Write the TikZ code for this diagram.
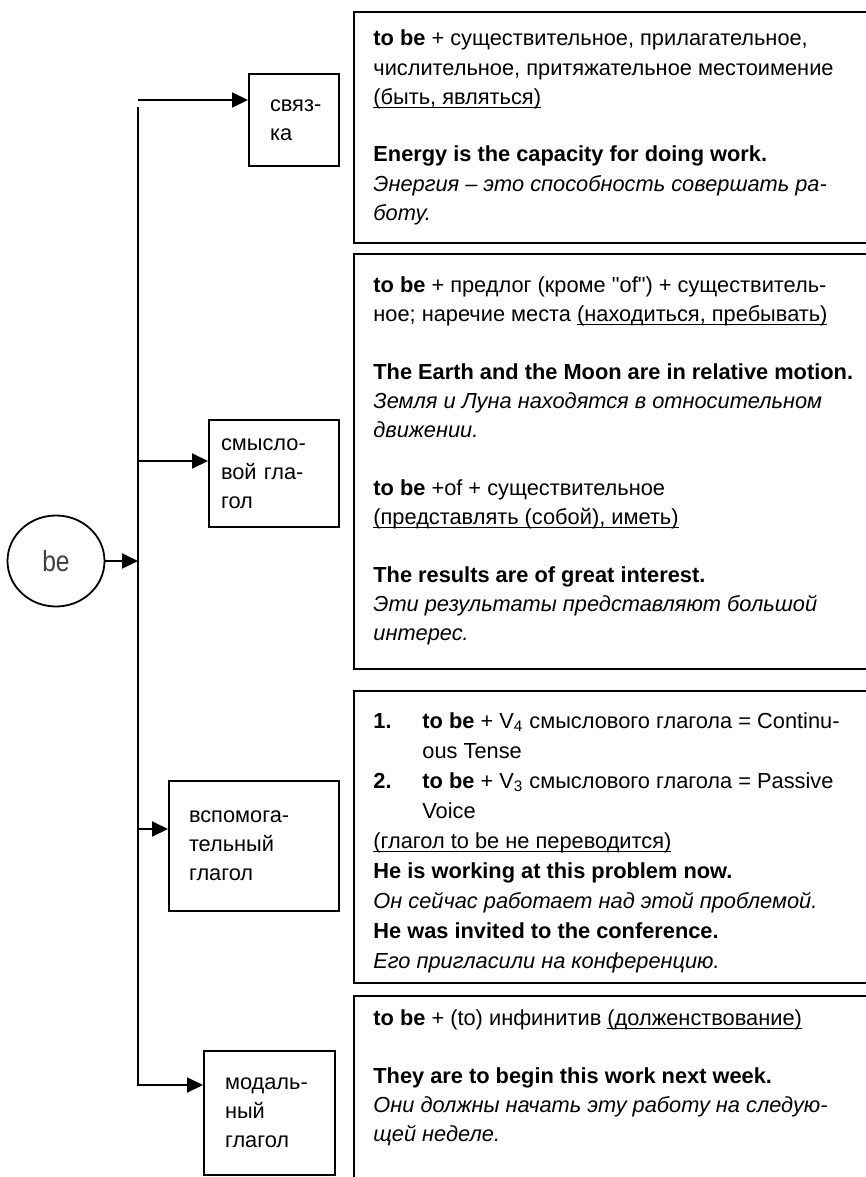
\documentclass[tikz,border=0pt]{standalone}
\usepackage{fontspec}
\setmainfont{Liberation Sans}[Ligatures=TeXOff]
\newfontfamily\narrowfont[FakeStretch=0.85]{Liberation Sans}
\usetikzlibrary{shapes.geometric,arrows.meta}
\newcommand{\undl}[1]{\setbox0\hbox{#1}\rlap{\rule[-2pt]{\wd0}{0.6pt}}\box0}

\begin{document}
\begin{tikzpicture}[x=0.5pt,y=-0.5pt]
  \tikzstyle{every node}=[font=\fontsize{10.9}{14.5}\selectfont]
  \tikzstyle{kind}=[draw,line width=1pt,anchor=north west,align=left,inner ysep=0pt]
  \tikzstyle{frame}=[draw,line width=1pt,anchor=north west,inner sep=0pt,minimum width=273.5pt]
  \tikzstyle{txt}=[anchor=base west,align=left,inner sep=0pt]
  \tikzstyle{link}=[line width=1pt,-{Triangle[length=8pt,width=7.5pt]}]
  \useasboundingbox (0,0) rectangle (866,1177);
  \newcommand{\hang}{24.5pt}
% the verb and the four kinds of use
  \node[draw,ellipse,line width=0.9pt,minimum width=48.5pt,minimum height=45.5pt,inner sep=0pt,
        font=\narrowfont\fontsize{14.5}{16}\selectfont,text=black!75] (be) at (56,561) {be};
  \node[kind,text width=24pt,inner xsep=10.5pt,minimum width=45pt,minimum height=46pt]
        (svyazka) at (248,73) {\mbox{связ-}\\ка};
  \node[kind,text width=53pt,inner xsep=6pt,minimum width=65pt,minimum height=53.5pt]
        (smysl) at (208,419) {\mbox{смысло-}\\\mbox{вой гла-}\\гол};
  \node[kind,text width=65pt,inner xsep=10pt,minimum width=85pt,minimum height=65pt]
        (vspom) at (168,780) {\mbox{вспомога-}\\тельный\\глагол};
  \node[kind,text width=44.5pt,inner xsep=10.5pt,minimum width=65.5pt,minimum height=62pt]
        (modal) at (203,1050) {\mbox{модаль-}\\ный\\глагол};
% branching line
  \coordinate (j0)   at (138,100);
  \coordinate (jtop) at (138,107);
  \coordinate (j1)   at (138,461);
  \coordinate (j2)   at (138,829);
  \coordinate (j3)   at (138,1085);
  \draw[link] (be.east) -- (be.east -| j0);
  \foreach \j/\dst in {j0/svyazka,j1/smysl,j2/vspom}{
    \draw[link] (\j) -- (\j -| \dst.west);
  }
  \draw[link] (jtop) |- (j3 -| modal.west);
% frames with rules and examples (text placed by its last baseline)
  \node[frame,minimum height=115.5pt] (b1) at (353,11)  {};
  \node[frame,minimum height=207.5pt] (b2) at (353,253) {};
  \node[frame,minimum height=146pt]   (b3) at (353,690) {};
  \node[frame,minimum height=112.5pt] (b4) at (353,995) {};
  \node[txt] (t1) at (373,220) {\textbf{to be} + существительное, прилагательное,\\
    числительное, притяжательное местоимение\\
    \undl{(быть, являться)}\\[14.5pt]
    \textbf{Energy is the capacity for doing work.}\\
    \textit{Энергия – это способность совершать ра-}\\
    \textit{боту.}};
  \node[txt] (t2) at (373,640) {\textbf{to be} + предлог (кроме "of") + существитель-\\
    ное; наречие места \undl{(находиться, пребывать)}\\[14.5pt]
    \textbf{The Earth and the Moon are in relative motion.}\\
    \textit{Земля и Луна находятся в относительном}\\
    \textit{движении.}\\[14.5pt]
    \textbf{to be} +of + существительное\\
    \undl{(представлять (собой), иметь)}\\[14.5pt]
    \textbf{The results are of great interest.}\\
    \textit{Эти результаты представляют большой}\\
    \textit{интерес.}};
  \node[txt,font=\fontsize{10.9}{15}\selectfont] (t3) at (373,968) {%
    \makebox[\hang][l]{\textbf{1.}}\textbf{to be} + V\textsubscript{4} смыслового глагола = Continu-\\
    \hspace*{\hang}ous Tense\\
    \makebox[\hang][l]{\textbf{2.}}\textbf{to be} + V\textsubscript{3} смыслового глагола = Passive\\
    \hspace*{\hang}Voice\\
    \undl{(глагол to be не переводится)}\\
    \textbf{He is working at this problem now.}\\
    \textit{Он сейчас работает над этой проблемой.}\\
    \textbf{He was invited to the conference.}\\
    \textit{Его пригласили на конференцию.}};
  \node[txt] (t4) at (373,1141) {\textbf{to be} + (to) инфинитив \undl{(долженствование)}\\[14.5pt]
    \textbf{They are to begin this work next week.}\\
    \textit{Они должны начать эту работу на следую-}\\
    \textit{щей неделе.}};
\end{tikzpicture}
\end{document}
